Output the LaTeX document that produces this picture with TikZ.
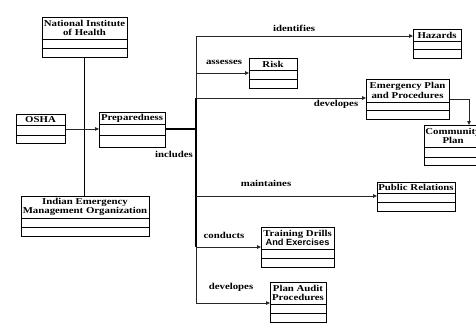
\documentclass[tikz,border=0pt]{standalone}
\usepackage{fontspec}
\setmainfont{Liberation Serif}[FakeStretch=1.2]
\newfontfamily\sansbold{Liberation Sans}[FakeStretch=1.03]
\usetikzlibrary{arrows.meta}

% UML-like class box: name, left, top, right, first divider, second divider, bottom, title
\newcommand\umlclass[8]{%
  \node[clsbox, minimum width={#4-#2}, minimum height={#7-#3}, anchor=north west] (#1) at (#2,#3) {};
  \node[clstitle] (#1-t) at ({(#2+#4)/2},{(#3+#5)/2}) {#8};
  \draw[clsline] (#1.west |- 0,#5) -- (#1.east |- 0,#5)
                 (#1.west |- 0,#6) -- (#1.east |- 0,#6);
}

\begin{document}
\begin{tikzpicture}[x=1pt, y=-1pt,
  clsbox/.style={draw=black, line width=0.9pt, inner sep=0pt, fill=white},
  clsline/.style={draw=black, line width=0.9pt},
  clstitle/.style={inner sep=0pt, align=center, font=\fontsize{9}{9.5}\selectfont\bfseries},
  lbl/.style={inner sep=0pt, font=\fontsize{9}{9.5}\selectfont\bfseries},
  conn/.style={draw=black!85, line width=0.8pt},
  arr/.style={conn, -{Triangle[length=4pt, width=3.5pt]}},
  heavy/.style={draw=black, line width=1.8pt}
]
\useasboundingbox (0,0) rectangle (476,324);
\clip (0,0) rectangle (476,324);

% left-hand organisations
\umlclass{nih}{42}{17}{127}{39}{48}{57}{National Institute\\of Health}
\umlclass{osha}{16}{114}{65}{125}{135}{143}{OSHA}
\umlclass{prep}{99}{112}{165}{124}{135}{147}{Preparedness}
\umlclass{iemo}{21}{196}{149}{218}{227}{236}{Indian Emergency\\Management Organization}

% preparedness activities
\umlclass{haz}{413}{29}{461}{41}{49}{58}{Hazards}
\umlclass{risk}{249}{58}{297}{70}{79}{88}{Risk}
\umlclass{emer}{366}{79}{449}{102}{110}{119}{Emergency Plan\\and Procedures}
\node[clsbox, minimum width=60, minimum height=40, anchor=north west] (comm) at (424,125) {};
\node[clstitle] (comm-t) at (453,136) {Community\\Plan};
\draw[clsline] (comm.west |- 0,147) -- (comm.east |- 0,147)
               (comm.west |- 0,157) -- (comm.east |- 0,157);
\umlclass{pr}{377}{182}{455}{193}{202}{211}{Public Relations}
\umlclass{train}{261}{227}{334}{249}{258}{267}{Training Drills\\{\sansbold\bfseries And Exercises}}
\umlclass{audit}{270}{282}{326}{304}{313}{322}{Plan Audit\\Procedures}

% bus points
\coordinate (bm) at (196,129);
\coordinate (b1) at (196,36);
\coordinate (b2) at (196,73);
\coordinate (b3) at (196,98);
\coordinate (b4) at (196,196);
\coordinate (b5) at (196,247);
\coordinate (b6) at (196,303);
\coordinate (ec) at (469,99);

% connectors
\draw[draw=black, line width=1pt] (nih.south) -- (nih.south |- iemo.north);
\draw[arr] (osha.east) -- (osha.east -| prep.west);
\draw[heavy] (prep.east |- bm) -- (bm);
\draw[conn] (b1) -- (b6);
\draw[heavy] (b3) -- (b5);
\draw[arr] (b1) -- (b1 -| haz.west);
\draw[arr] (b2) -- (b2 -| risk.west);
\draw[arr] (b3) -- (b3 -| emer.west);
\draw[arr] (b4) -- (b4 -| pr.west);
\draw[arr] (b5) -- (b5 -| train.west);
\draw[arr] (b6) -- (b6 -| audit.west);
\draw[arr] (emer.east |- ec) -- (ec) -- (ec |- comm.north);

% connector labels
\node[lbl] (l1) at (294,28) {identifies};
\node[lbl] (l2) at (224,62) {assesses};
\node[lbl] (l3) at (336,104) {developes};
\node[lbl] (l4) at (174,154) {includes};
\node[lbl] (l5) at (266,183) {maintaines};
\node[lbl] (l6) at (224,235) {conducts};
\node[lbl] (l7) at (231,287) {developes};
\end{tikzpicture}
\end{document}
